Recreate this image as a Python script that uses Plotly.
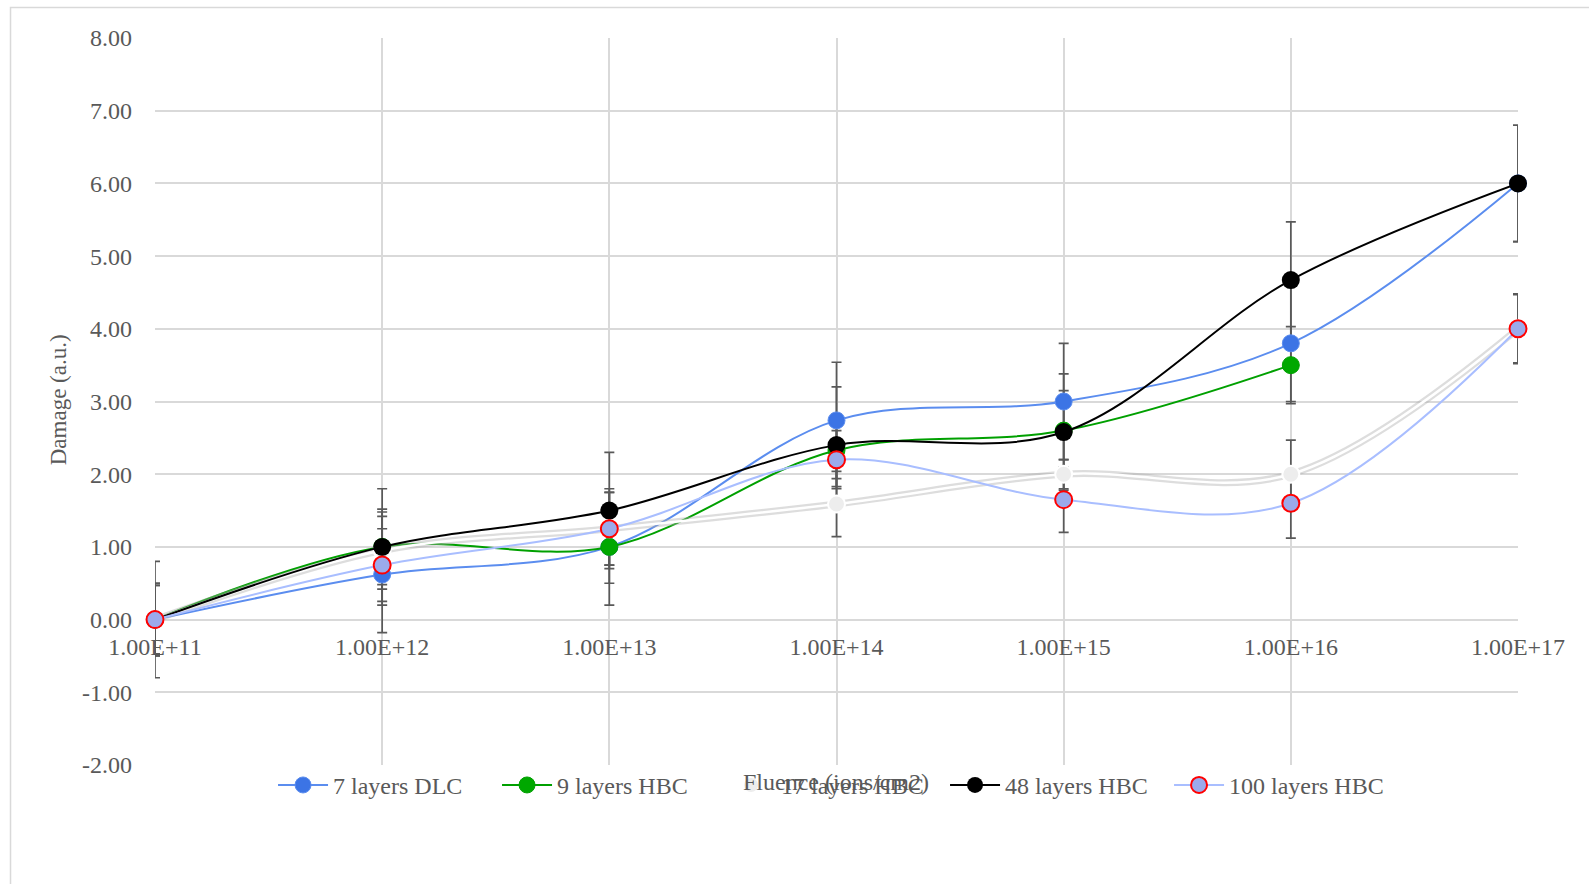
import plotly.graph_objects as go

# ---------------- data ----------------
fluence = [1e11, 1e12, 1e13, 1e14, 1e15, 1e16, 1e17]
tick_labels = ["1.00E+11", "1.00E+12", "1.00E+13", "1.00E+14",
               "1.00E+15", "1.00E+16", "1.00E+17"]
y_ticks = [-2, -1, 0, 1, 2, 3, 4, 5, 6, 7, 8]
y_tick_labels = ["-2.00", "-1.00", "0.00", "1.00", "2.00", "3.00",
                 "4.00", "5.00", "6.00", "7.00", "8.00"]

dlc7 = [0.0, 0.62, 1.0, 2.74, 3.0, 3.8, 6.0]
dlc7_err = [0.5, 0.8, 0.5, 0.8, 0.8, 0.8, 0.8]

hbc9 = [0.0, 1.0, 1.0, 2.33, 2.6, 3.5, None]
hbc9_err = [0.47, 0.52, 0.8, 0.5, 0.55, 0.53, None]

hbc17 = [0.0, 0.95, 1.25, 1.59, 2.0, 2.0, 4.0]
hbc17_err = [0.5, 0.53, 0.5, 0.45, 0.2, 0.47, 0.47]

hbc48 = [0.0, 1.0, 1.5, 2.4, 2.58, 4.67, 6.0]
hbc48_err = [0.8, 0.8, 0.8, 0.8, 0.8, 0.8, 0.8]

hbc100 = [0.0, 0.75, 1.25, 2.2, 1.65, 1.6, 4.0]
hbc100_err = [0.47, 0.5, 0.5, 0.4, 0.45, 0.48, 0.48]

# ---------------- style ----------------
FONT = "Liberation Serif, Times New Roman, serif"
TXT = "#595959"
GRID = "#D9D9D9"
ERRC = "#595959"
FS = 24

fig = go.Figure()

# error bars (clipped to plot area like the original)
for ys, es in [(dlc7, dlc7_err), (hbc9, hbc9_err), (hbc17, hbc17_err),
               (hbc48, hbc48_err), (hbc100, hbc100_err)]:
    fig.add_trace(go.Scatter(
        x=fluence, y=ys, mode="markers", showlegend=False, hoverinfo="skip",
        marker=dict(size=1, opacity=0), cliponaxis=True,
        error_y=dict(type="data", array=es, visible=True, color=ERRC,
                     thickness=1.7, width=5)))

# 7 layers DLC
fig.add_trace(go.Scatter(
    x=fluence, y=dlc7, name="7 layers DLC", mode="lines+markers",
    line=dict(color="#5B8DEF", width=2, shape="spline"),
    marker=dict(color="#3C74E5", size=17, line=dict(color="#5B8DEF", width=1)),
    cliponaxis=False))

# 9 layers HBC
fig.add_trace(go.Scatter(
    x=fluence, y=hbc9, name="9 layers HBC", mode="lines+markers",
    line=dict(color="#00A000", width=2, shape="spline"),
    marker=dict(color="#00A800", size=17, line=dict(color="#00A000", width=1)),
    cliponaxis=False))

# 17 layers HBC: grey halo (shadow) under a white line
fig.add_trace(go.Scatter(
    x=fluence, y=hbc17, mode="lines", showlegend=False, hoverinfo="skip",
    line=dict(color="rgba(170,170,170,0.4)", width=7, shape="spline"),
    cliponaxis=False))
fig.add_trace(go.Scatter(
    x=fluence, y=hbc17, name="17 layers HBC", mode="lines+markers",
    line=dict(color="#FFFFFF", width=2.5, shape="spline"),
    marker=dict(color="#EDEDED", size=17, line=dict(color="#FFFFFF", width=2)),
    cliponaxis=False))

# 48 layers HBC
fig.add_trace(go.Scatter(
    x=fluence, y=hbc48, name="48 layers HBC", mode="lines+markers",
    line=dict(color="#000000", width=2, shape="spline"),
    marker=dict(color="#000000", size=18),
    cliponaxis=False))

# 100 layers HBC
fig.add_trace(go.Scatter(
    x=fluence, y=hbc100, name="100 layers HBC", mode="lines+markers",
    line=dict(color="#A9BEFF", width=2, shape="spline"),
    marker=dict(color="#9BAAEB", size=17, line=dict(color="#FF0000", width=2)),
    cliponaxis=False))

fig.update_layout(
    width=1589, height=884,
    margin=dict(l=155, r=71, t=38, b=119),
    paper_bgcolor="white", plot_bgcolor="white",
    font=dict(family=FONT, size=FS, color=TXT),
    showlegend=True,
    legend=dict(orientation="h", x=0.0866, xanchor="left",
                y=-0.028, yanchor="middle",
                font=dict(family=FONT, size=FS, color=TXT),
                bgcolor="rgba(0,0,0,0)", itemwidth=50,
                entrywidth=159, entrywidthmode="pixels"),
    xaxis=dict(type="log", range=[11, 17], tickvals=fluence,
               ticktext=tick_labels, showgrid=True, gridcolor=GRID,
               gridwidth=1.5, zeroline=False, showline=False,
               anchor="free", position=0.2, ticks="",
               ticklabelstandoff=10,
               tickfont=dict(family=FONT, size=FS, color=TXT)),
    yaxis=dict(range=[-2, 8], tickvals=y_ticks, ticktext=y_tick_labels,
               showgrid=True, gridcolor=GRID, gridwidth=1.5,
               zeroline=False, showline=False, ticks="",
               ticklabelstandoff=22,
               tickfont=dict(family=FONT, size=FS, color=TXT)),
    annotations=[
        dict(text="Fluence (ions/cm2)", xref="paper", yref="paper",
             x=0.4997, y=-0.0234, xanchor="center", yanchor="middle",
             showarrow=False, font=dict(family=FONT, size=FS, color=TXT)),
        dict(text="Damage (a.u.)", xref="paper", yref="paper",
             x=-0.0712, y=0.503, xanchor="center", yanchor="middle",
             textangle=-90, showarrow=False,
             font=dict(family=FONT, size=FS - 1, color=TXT)),
    ],
    shapes=[
        dict(type="rect", xref="paper", yref="paper",
             x0=-0.106, x1=1.07, y0=-0.2, y1=1.0418,
             line=dict(color="#D9D9D9", width=1.5), layer="below"),
    ],
)

fig.write_html("out.html")
